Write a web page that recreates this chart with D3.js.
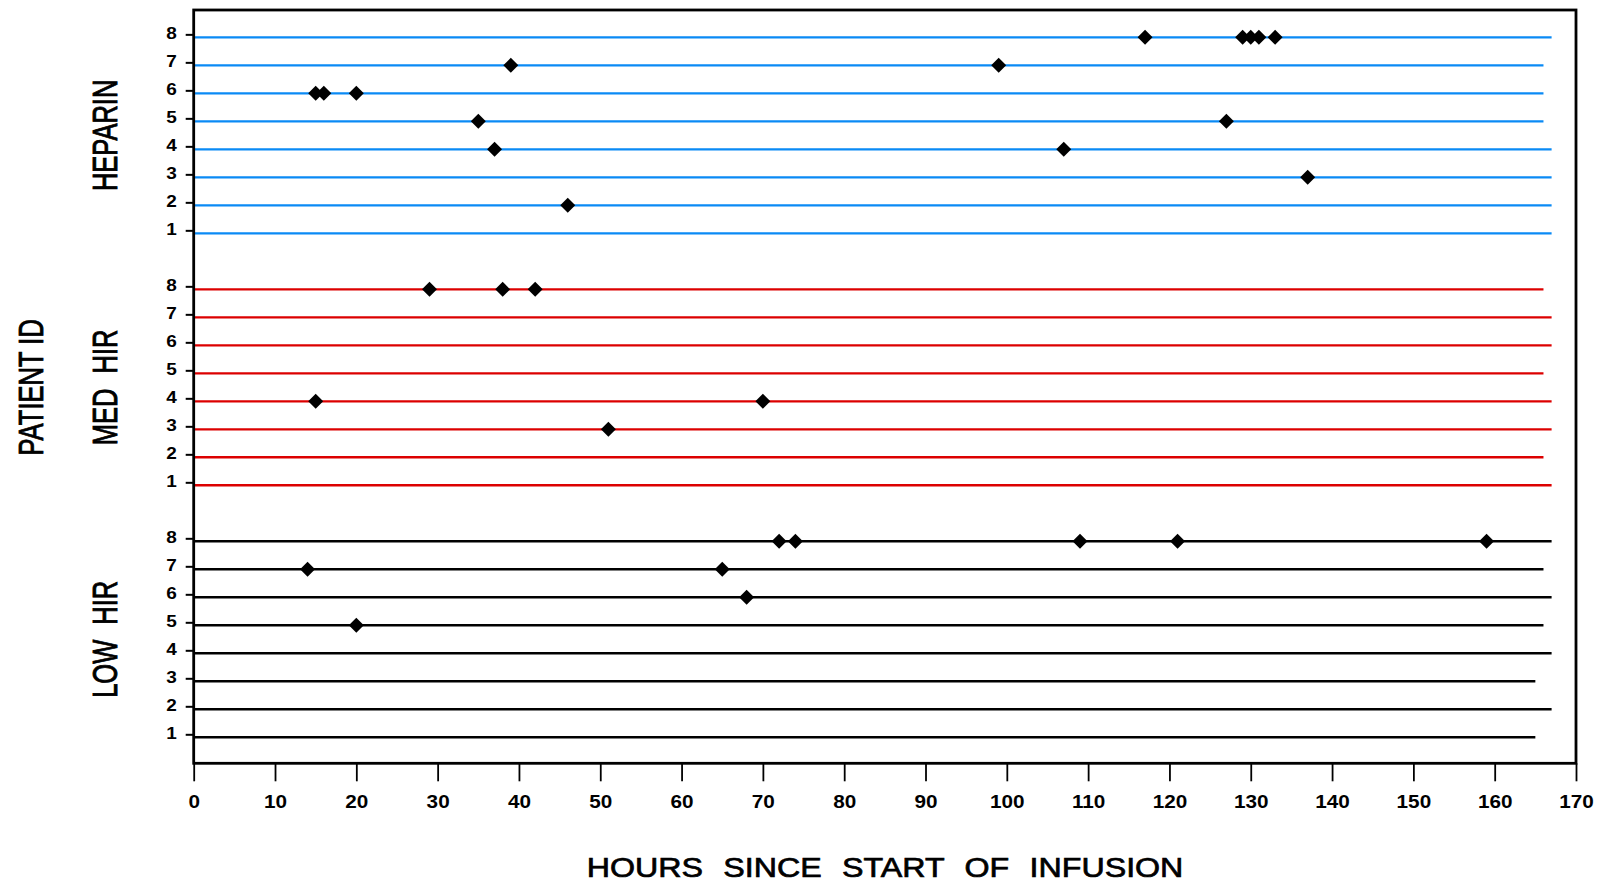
<!DOCTYPE html>
<html>
<head>
<meta charset="utf-8">
<script src="https://cdn.jsdelivr.net/npm/d3@7"></script>
<style>
body{margin:0;background:#fff;}
text{font-family:"Liberation Sans",Arial,sans-serif;fill:#000;}
</style>
</head>
<body>
<div id="chart"></div>
<script>
// groups from bottom to top
var groups = ["LOW HIR", "MED HIR", "HEPARIN"];
var groupColors = ["#000000", "#dc0000", "#0a8af5"];
var groupOffset = [0, 9, 18];
var patients = [1, 2, 3, 4, 5, 6, 7, 8];
var xTicks = [0, 10, 20, 30, 40, 50, 60, 70, 80, 90, 100, 110, 120, 130, 140, 150, 160, 170];

// hours of follow-up, patient 1..8
var lowEnd = [165, 167, 165, 167, 166, 167, 166, 167];
var medEnd = [167, 166, 167, 167, 166, 167, 167, 166];
var heparinEnd = [167, 167, 167, 167, 166, 166, 166, 167];

// hours of events, patient 1..8
var lowEvents = [[], [], [], [], [20], [68], [14, 65], [72, 74, 109, 121, 159]];
var medEvents = [[], [], [51], [15, 70], [], [], [], [29, 38, 42]];
var heparinEvents = [[], [46], [137], [37, 107], [35, 127], [15, 16, 20], [39, 99], [117, 129, 130, 131, 133]];

var ends = [lowEnd, medEnd, heparinEnd];
var events = [lowEvents, medEvents, heparinEvents];

var width = 1602, height = 882;
var svg = d3.select("#chart").append("svg").attr("width", width).attr("height", height);

var x = d3.scaleLinear().domain([0, 170]).range([193.7, 1576]);
var y = d3.scaleLinear().domain([0, 26.87]).range([762.3, 10]);
var shift = 3;

var rows = [];
var marks = [];
for(var g=0;g<groups.length;g++)
{
	for(var p=0;p<patients.length;p++)
	{
		var idx = groupOffset[g] + patients[p];
		rows.push({g:g, idx:idx, end:ends[g][p]});
		for(var k=0;k<events[g][p].length;k++)
			marks.push({g:g, idx:idx, t:events[g][p][k]});
	}
}

// patient lines
svg.append("g").selectAll("line").data(rows).enter().append("line")
	.attr("x1", x(0))
	.attr("x2", function(d){ return x(d.end); })
	.attr("y1", function(d){ return y(d.idx) + shift; })
	.attr("y2", function(d){ return y(d.idx) + shift; })
	.attr("stroke", function(d){ return groupColors[d.g]; })
	.attr("stroke-width", 2.4);

// events
svg.append("g").selectAll("path").data(marks).enter().append("path")
	.attr("d", "M0,-7.5L7.5,0L0,7.5L-7.5,0Z")
	.attr("transform", function(d){ return "translate(" + x(d.t) + "," + (y(d.idx) + shift) + ")"; })
	.attr("fill", "#000");

// frame
svg.append("rect")
	.attr("x", x(0)).attr("y", y(26.87))
	.attr("width", x(170) - x(0)).attr("height", 763.3 - y(26.87))
	.attr("fill", "none").attr("stroke", "#000").attr("stroke-width", 2.8);

// x axis
var xAxis = svg.append("g").attr("transform", "translate(0,763.3)")
	.call(d3.axisBottom(x).tickValues(xTicks).tickSize(18).tickSizeOuter(0));
xAxis.select(".domain").remove();
xAxis.selectAll("line").attr("stroke-width", 1.8);
xAxis.selectAll("text")
	.attr("y", 45).attr("dy", null)
	.attr("transform", "scale(1.12,1)")
	.style("font-size", "18.5px").style("font-weight", "bold")
	.style("font-family", "'Liberation Sans',Arial,sans-serif");

// y axis
var yTicks = [];
for(var g=0;g<groups.length;g++)
	for(var p=0;p<patients.length;p++)
		yTicks.push(groupOffset[g] + patients[p]);
var yAxis = svg.append("g").attr("transform", "translate(" + x(0) + ",0)")
	.call(d3.axisLeft(y).tickValues(yTicks).tickSize(8).tickSizeOuter(0)
		.tickFormat(function(d){ return d % 9; }));
yAxis.select(".domain").remove();
yAxis.selectAll("line").attr("stroke-width", 2);
yAxis.selectAll("text")
	.attr("x", 0).attr("y", 0).attr("dy", null)
	.attr("transform", "translate(-17,4) scale(1.15,1)")
	.style("font-size", "16.5px").style("font-weight", "bold")
	.style("font-family", "'Liberation Sans',Arial,sans-serif");

// group labels
svg.append("g").selectAll("text").data(groups).enter().append("text")
	.text(function(d){ return d; })
	.attr("text-anchor", "middle")
	.attr("transform", function(d, i)
	{
		return "translate(117," + (y(groupOffset[i] + 4.5) + shift) + ") scale(1.35,1) rotate(-90)";
	})
	.style("font-size", "25.5px")
	.style("word-spacing", "8px")
	.style("stroke", "#000").style("stroke-width", "0.7px");

svg.append("text").text("PATIENT ID")
	.attr("text-anchor", "middle")
	.attr("transform", "translate(43," + (y(13.5) + shift) + ") scale(1.35,1) rotate(-90)")
	.style("font-size", "25.6px")
	.style("stroke", "#000").style("stroke-width", "0.6px");

svg.append("text").text("HOURS SINCE START OF INFUSION")
	.attr("text-anchor", "middle")
	.attr("transform", "translate(885,876.5) scale(1.15,1)")
	.style("font-size", "28px")
	.style("word-spacing", "10px")
	.style("stroke", "#000").style("stroke-width", "0.7px");
</script>
</body>
</html>
